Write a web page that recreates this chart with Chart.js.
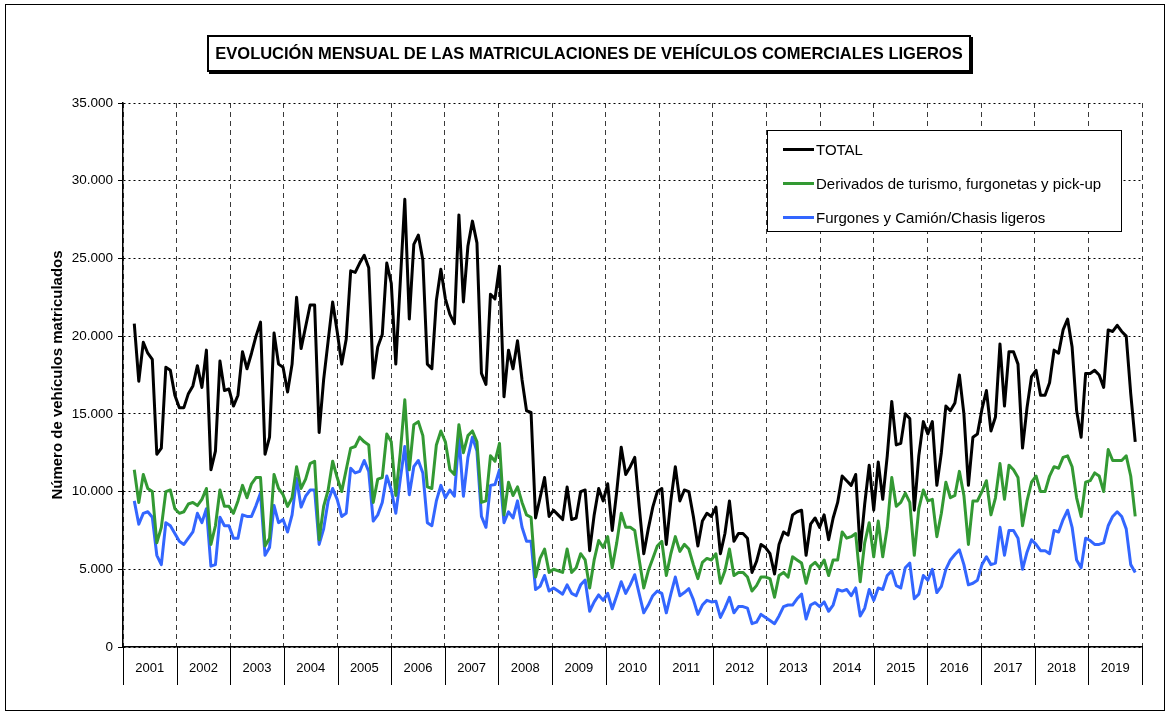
<!DOCTYPE html>
<html>
<head>
<meta charset="utf-8">
<script src="https://cdn.jsdelivr.net/npm/chart.js@4.4.1/dist/chart.umd.min.js"></script>
<style>
  body { margin: 0; background: #fff; font-family: "Liberation Sans", Arial, sans-serif; }
  #wrap { position: relative; width: 1169px; height: 713px; }
  #chart { position: absolute; left: 0; top: 0; }
  #frame { position: absolute; left: 5px; top: 4px; width: 1160px; height: 707px; border: 1px solid #000; box-sizing: border-box; pointer-events: none; }
  #title { position: absolute; left: 207px; top: 35px; width: 764px; height: 37px; border: 2px solid #000; box-shadow: 2px 2px 0 #000;
           background: #fff; box-sizing: border-box; display: flex; align-items: center; justify-content: center;
           font-weight: bold; font-size: 16.5px; color: #000; white-space: nowrap; }
  #legend { position: absolute; left: 767px; top: 130px; width: 355px; height: 102px; border: 1px solid #000; background: #fff; box-sizing: border-box; }
  .item { position: absolute; left: 15px; height: 20px; display: flex; align-items: center; font-size: 15px; color: #000; white-space: nowrap; }
  .item span.line { display: inline-block; width: 31px; height: 3px; margin-right: 2px; }
</style>
</head>
<body>
<div id="wrap">
  <canvas id="chart" width="1169" height="713"></canvas>
  <div id="frame"></div>
  <div id="title">EVOLUCIÓN MENSUAL DE LAS MATRICULACIONES DE VEHÍCULOS COMERCIALES LIGEROS</div>
  <div id="legend"></div>
</div>
<script>
// meses desde enero 2001; la serie empieza en marzo 2001 y acaba en septiembre 2019
const startMonth = 2
const monthSlots = 226   // huecos mensuales del eje de datos (ene 2001 - oct 2019)
const years = ['2001', '2002', '2003', '2004', '2005', '2006', '2007', '2008', '2009', '2010',
               '2011', '2012', '2013', '2014', '2015', '2016', '2017', '2018', '2019']
const yTicks = [0, 5000, 10000, 15000, 20000, 25000, 30000, 35000]

const total = [
  20800, 17100, 19600, 18900, 18500, 12400, 12800, 18000, 17800, 16200,
  15400, 15400, 16300, 16800, 18100, 16700, 19100, 11400, 12600, 18400, 16500, 16600,
  15500, 16200, 19000, 17900, 18900, 20000, 20900, 12400, 13500, 20200, 18200, 18000,
  16400, 18200, 22500, 19200, 20600, 22000, 22000, 13800, 17200, 19700, 22200, 20300,
  18200, 19800, 24200, 24100, 24700, 25200, 24400, 17300, 19300, 20100, 24700, 23400,
  18200, 23500, 28800, 21100, 25900, 26500, 24900, 18200, 17900, 22300, 24300, 22400,
  21400, 20800, 27800, 22200, 25800, 27400, 26000, 17600, 16900, 22700, 22400, 24500,
  16100, 19100, 17900, 19700, 17200, 15200, 15100, 8300, 9600, 10900, 8400, 8800,
  8500, 8200, 10300, 8200, 8300, 10000, 10100, 6200, 8500, 10200, 9400, 10500,
  7500, 10000, 12850, 11100, 11600, 12200, 9000, 6000, 7600, 9000, 10000, 10200,
  6600, 9400, 11600, 9400, 10100, 10000, 8400, 6500, 8100, 8600, 8400, 9000,
  6000, 7300, 9400, 6800, 7300, 7300, 7000, 4800, 5500, 6600, 6400, 6000,
  4700, 6600, 7400, 7200, 8500, 8700, 8800, 5900, 7900, 8300, 7700, 8500,
  6900, 8300, 9300, 11000, 10700, 10400, 11100, 6200, 9200, 11700, 8800, 11900,
  9500, 12300, 15800, 13000, 13100, 15000, 14700, 8800, 12300, 14500, 13700, 14500,
  10400, 12500, 15500, 15200, 15700, 17500, 15000, 10400, 13500, 13700, 15300, 16500,
  13900, 14800, 19500, 15500, 19000, 19000, 18200, 12800, 15400, 17400, 17800, 16200,
  16200, 17000, 19100, 18900, 20400, 21100, 19300, 15200, 13500, 17600, 17600, 17800,
  17500, 16700, 20400, 20300, 20700, 20300, 20000, 16300, 13200
]

const derivados = [
  11400, 9300, 11100, 10200, 10000, 6700, 7700, 10000, 10100, 8900,
  8600, 8700, 9200, 9300, 9100, 9500, 10200, 6600, 7800, 10100, 9050, 9050,
  8600, 9400, 10400, 9600, 10500, 10900, 10900, 6500, 7000, 11100, 10200, 9800,
  9050, 9600, 11600, 10200, 10800, 11800, 11950, 6900, 9050, 10100, 11950, 10900,
  10000, 11400, 12800, 12900, 13500, 13200, 13000, 9300, 10800, 10900, 13700, 13200,
  9750, 12500, 15900, 11400, 14300, 14500, 13600, 10300, 10200, 13000, 13900, 13200,
  11400, 11100, 14300, 12500, 13600, 13900, 13200, 9300, 9400, 12300, 11950, 13100,
  8500, 10600, 9750, 10300, 9300, 8500, 8350, 4500, 5700, 6300, 4800, 5000,
  4900, 4800, 6300, 4800, 5100, 6000, 5600, 3800, 5600, 6850, 6400, 7100,
  5100, 6700, 8600, 7700, 7700, 7500, 5600, 3800, 4900, 5700, 6500, 6800,
  4600, 6000, 7100, 6150, 6600, 6300, 5300, 4400, 5450, 5700, 5600, 6000,
  4100, 4900, 6300, 4600, 4800, 4800, 4500, 3600, 3950, 4500, 4500, 4400,
  3200, 4600, 4800, 4500, 5800, 5600, 5400, 4100, 5200, 5450, 5100, 5600,
  4600, 5600, 5600, 7400, 7000, 7100, 7300, 4200, 6700, 8000, 5800, 8100,
  5800, 7700, 10900, 9050, 9300, 9900, 9300, 5900, 8900, 10100, 9400, 9500,
  7100, 8600, 10600, 9600, 9750, 11300, 9750, 6600, 9400, 9400, 10000, 10700,
  8500, 9600, 11800, 9500, 11700, 11400, 10900, 7800, 9400, 10600, 11000, 10000,
  10000, 11000, 11600, 11500, 12200, 12300, 11600, 9600, 8400, 10600, 10700, 11200,
  11000, 10000, 12700, 12000, 12000, 12000, 12300, 11000, 8400
]

const furgones = [
  9400, 7900, 8600, 8700, 8350, 5900, 5300, 8000, 7800, 7300,
  6800, 6600, 7000, 7400, 8600, 8000, 8900, 5200, 5300, 8350, 7800, 7800,
  7000, 7000, 8500, 8400, 8400, 9100, 9900, 5900, 6400, 9100, 8000, 8200,
  7400, 8500, 10850, 9000, 9700, 10100, 10100, 6600, 7600, 9400, 10200, 9500,
  8400, 8600, 11500, 11200, 11300, 12000, 11300, 8100, 8500, 9300, 11000, 10100,
  8600, 10800, 12900, 9800, 11600, 12000, 11200, 8000, 7800, 9400, 10400, 9600,
  10100, 9700, 13500, 9700, 12200, 13500, 12600, 8400, 7700, 10400, 10450, 11400,
  8000, 8700, 8300, 9400, 7700, 6800, 6800, 3700, 3900, 4600, 3600, 3800,
  3600, 3400, 4000, 3450, 3300, 4000, 4300, 2300, 2900, 3350, 3000, 3450,
  2450, 3300, 4200, 3450, 4000, 4650, 3400, 2200, 2700, 3300, 3600, 3450,
  2200, 3400, 4500, 3300, 3500, 3750, 3050, 2100, 2700, 3000, 2900, 2950,
  1900, 2500, 3200, 2200, 2600, 2600, 2500, 1500, 1600, 2100, 1900, 1700,
  1500, 2000, 2600, 2700, 2700, 3100, 3400, 1800, 2700, 2850, 2600, 2900,
  2300, 2700, 3700, 3600, 3700, 3300, 3800, 2000, 2500, 3700, 3000, 3800,
  3700, 4600, 4900, 3950, 3800, 5100, 5400, 3100, 3400, 4600, 4300, 5000,
  3500, 3900, 5000, 5600, 5950, 6250, 5300, 4000, 4100, 4300, 5300, 5800,
  5300, 5400, 7700, 5900, 7500, 7500, 7000, 5000, 6100, 6900, 6600, 6200,
  6200, 6000, 7500, 7400, 8200, 8800, 7700, 5600, 5100, 7000, 6850, 6600,
  6600, 6700, 7800, 8400, 8700, 8400, 7600, 5300, 4800
]

const toPoints = arr => arr.map((v, i) => ({ x: startMonth + i + 0.5, y: v }))
const fmt = v => String(v).replace(/\B(?=(\d{3})+(?!\d))/g, '.')
const FONT = '"Liberation Sans", Arial, sans-serif'

const lineStyle = {
  borderWidth: 3,
  pointRadius: 0,
  tension: 0,
  fill: false,
  borderJoinStyle: 'round'
}

// separadores verticales bajo el eje (caja de años)
const yearBoxes = {
  id: 'yearBoxes',
  afterDraw(chart) {
    const { ctx, chartArea, scales } = chart
    ctx.save()
    ctx.strokeStyle = '#000'
    ctx.lineWidth = 1
    for (let k = 0; k <= years.length; k++) {
      const x = Math.round(scales.years.getPixelForValue(k - 0.5)) + 0.5
      ctx.beginPath()
      ctx.moveTo(x, chartArea.bottom)
      ctx.lineTo(x, chartArea.bottom + 38)
      ctx.stroke()
    }
    ctx.restore()
  }
}

const chart = new Chart(document.getElementById('chart'), {
  type: 'line',
  data: {
    datasets: [
      { label: 'TOTAL', data: toPoints(total), borderColor: '#000000', ...lineStyle },
      { label: 'Derivados de turismo, furgonetas y pick-up', data: toPoints(derivados), borderColor: '#339933', ...lineStyle },
      { label: 'Furgones y Camión/Chasis ligeros', data: toPoints(furgones), borderColor: '#3366ff', ...lineStyle }
    ]
  },
  options: {
    responsive: false,
    animation: false,
    layout: { padding: { left: 0, top: 103, right: 27, bottom: 26 } },
    plugins: { legend: { display: false }, tooltip: { enabled: false } },
    scales: {
      x: {
        type: 'linear',
        display: false,
        min: 0,
        max: monthSlots
      },
      years: {
        type: 'category',
        labels: years,
        position: 'bottom',
        offset: true,
        afterFit: scale => { scale.height = 40 },
        ticks: {
          autoSkip: false,
          maxRotation: 0,
          padding: 14,
          color: '#000',
          font: { family: FONT, size: 13 }
        },
        grid: { offset: true, drawTicks: false, color: '#3a3a3a', lineWidth: 1 },
        border: { display: true, color: '#000', width: 1.5, dash: [5, 4] }
      },
      y: {
        min: 0,
        max: 35000,
        afterBuildTicks: scale => { scale.ticks = yTicks.map(v => ({ value: v })) },
        afterFit: scale => { scale.width = 123 },
        ticks: {
          padding: 5,
          color: '#000',
          font: { family: FONT, size: 13.5 },
          callback: v => fmt(v)
        },
        grid: { color: '#000', lineWidth: 1, tickLength: 5 },
        border: { display: true, color: '#000', width: 1.5, dash: [2, 3] },
        title: {
          display: true,
          text: 'Número de vehículos matriculados',
          color: '#000',
          font: { family: FONT, size: 15, weight: 'bold' },
          padding: { top: 49, bottom: 0 }
        }
      }
    }
  },
  plugins: [yearBoxes]
})

// leyenda dentro del área de trazado
const legendEl = document.getElementById('legend')
const rowTops = [8, 42, 76]
chart.data.datasets.forEach((ds, i) => {
  const item = document.createElement('div')
  item.className = 'item'
  item.style.top = rowTops[i] + 'px'
  const line = document.createElement('span')
  line.className = 'line'
  line.style.background = ds.borderColor
  item.appendChild(line)
  item.appendChild(document.createTextNode(ds.label))
  legendEl.appendChild(item)
})
</script>
</body>
</html>
